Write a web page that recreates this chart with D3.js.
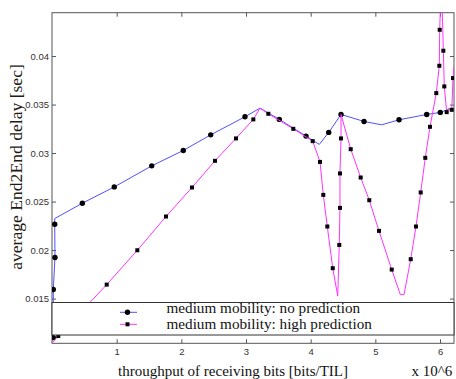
<!DOCTYPE html>
<html>
<head>
<meta charset="utf-8">
<script src="https://cdn.jsdelivr.net/npm/d3@7"></script>
<style>
  body { margin: 0; background: #fff; }
  svg { display: block; }
</style>
</head>
<body>
<svg id="chart" width="456" height="379"></svg>
<script>
// throughput [x 10^6 bits/TIL] and delay [sec]; mark = 1 where a marker is drawn
const noPredX = [0.02, 0.02, 0.046, 0.042, 0.042, 0.469, 0.963, 1.542, 2.030, 2.454, 2.984, 3.216, 3.515, 3.928, 4.133, 4.279, 4.469, 4.825, 5.098, 5.366, 5.794, 6.004, 6.150];
const noPredY = [0.01098, 0.01593, 0.01923, 0.02267, 0.02325, 0.02483, 0.02651, 0.02868, 0.03027, 0.03188, 0.03374, 0.03463, 0.03347, 0.03175, 0.03089, 0.03213, 0.03398, 0.03326, 0.03291, 0.03343, 0.03398, 0.03419, 0.03456];
const noPredMark = [1, 1, 1, 1, 0, 1, 1, 1, 1, 1, 1, 0, 1, 1, 0, 1, 1, 1, 0, 1, 1, 1, 0];

const highPredX = [0.0, 0.097, 0.846, 1.319, 1.763, 2.165, 2.520, 2.845, 3.113, 3.216, 3.345, 3.731, 4.031, 4.144, 4.195, 4.257, 4.341, 4.418, 4.442, 4.453, 4.453, 4.469, 4.469, 4.619, 4.773, 4.906, 5.056, 5.253, 5.386, 5.443, 5.547, 5.628, 5.701, 5.772, 5.845, 5.942, 5.989, 5.995, 6.010, 6.030, 6.051, 6.066, 6.103, 6.134, 6.181, 6.201, 6.230];
const highPredY = [0.0104, 0.01114, 0.01644, 0.01998, 0.02346, 0.02645, 0.0292, 0.03151, 0.03347, 0.03463, 0.03405, 0.0325, 0.03123, 0.02909, 0.02569, 0.02243, 0.01813, 0.01527, 0.02053, 0.02435, 0.0279, 0.03151, 0.03398, 0.0304, 0.02748, 0.02514, 0.02198, 0.01799, 0.01541, 0.01541, 0.01906, 0.02243, 0.02594, 0.02951, 0.03271, 0.03618, 0.039, 0.04271, 0.0458, 0.0458, 0.04055, 0.03687, 0.03422, 0.0346, 0.03446, 0.03773, 0.0396];
const highPredMark = [0, 1, 1, 1, 1, 1, 1, 1, 1, 0, 1, 1, 1, 1, 1, 1, 1, 0, 1, 1, 1, 1, 0, 1, 1, 1, 1, 1, 0, 0, 1, 1, 1, 1, 1, 1, 1, 1, 0, 0, 1, 1, 1, 0, 1, 1, 0];

const xTicks = [1, 2, 3, 4, 5, 6];
const yTicks = [0.015, 0.02, 0.025, 0.03, 0.035, 0.04];
const seriesNames = ["medium mobility: no prediction", "medium mobility: high prediction"];

const plotLeft = 52, plotRight = 454, plotTop = 12.7, plotBottom = 343.3;
const axisColor = "#555";
const blue = "#5050ff", magenta = "#ff33ff";

const svg = d3.select("#chart");

const xScale = d3.scaleLinear().domain([0, 6.216]).range([plotLeft, plotRight]);
const yScale = d3.scaleLinear().domain([0.01039, 0.04447]).range([plotBottom, plotTop]);

svg.append("defs").append("clipPath").attr("id", "plot")
   .append("rect")
   .attr("x", plotLeft).attr("y", plotTop)
   .attr("width", plotRight - plotLeft).attr("height", plotBottom - plotTop);

// axes, ticks pointing inward on all four sides
function styleAxis(g) {
  g.select(".domain").remove();
  g.selectAll("line").attr("stroke", axisColor);
  g.selectAll("text")
   .attr("fill", "#333")
   .style("font-family", "'Liberation Sans', Arial, sans-serif")
   .style("font-size", "9.5px");
}

svg.append("g")
   .attr("transform", `translate(0,${plotBottom})`)
   .call(d3.axisBottom(xScale).tickValues(xTicks).tickSize(-4).tickPadding(4.5).tickFormat(d3.format("d")))
   .call(styleAxis);

svg.append("g")
   .attr("transform", `translate(0,${plotTop})`)
   .call(d3.axisTop(xScale).tickValues(xTicks).tickSize(-4).tickFormat(""))
   .call(styleAxis);

svg.append("g")
   .attr("transform", `translate(${plotLeft},0)`)
   .call(d3.axisLeft(yScale).tickValues(yTicks).tickSize(-4).tickPadding(3).tickFormat(d => String(+d.toFixed(3))))
   .call(styleAxis);

svg.append("g")
   .attr("transform", `translate(${plotRight},0)`)
   .call(d3.axisRight(yScale).tickValues(yTicks).tickSize(-4).tickFormat(""))
   .call(styleAxis);

svg.append("rect")
   .attr("x", plotLeft).attr("y", plotTop)
   .attr("width", plotRight - plotLeft).attr("height", plotBottom - plotTop)
   .attr("fill", "none").attr("stroke", axisColor).attr("stroke-width", 1);

// data
const plot = svg.append("g").attr("clip-path", "url(#plot)");
const line = d3.line().x(d => xScale(d[0])).y(d => yScale(d[1]));

function drawSeries(xs, ys, marks, color, shape) {
  const pts = xs.map((x, i) => [x, ys[i], marks[i]]);
  plot.append("path")
      .datum(pts)
      .attr("d", line)
      .attr("fill", "none")
      .attr("stroke", color)
      .attr("stroke-width", 1);
  const m = pts.filter(d => d[2]);
  if (shape === "circle") {
    plot.selectAll(null).data(m).enter().append("circle")
        .attr("cx", d => xScale(d[0])).attr("cy", d => yScale(d[1]))
        .attr("r", 2.7).attr("fill", "#000");
  } else {
    plot.selectAll(null).data(m).enter().append("rect")
        .attr("x", d => xScale(d[0]) - 2).attr("y", d => yScale(d[1]) - 2)
        .attr("width", 4).attr("height", 4).attr("fill", "#000");
  }
}

drawSeries(noPredX, noPredY, noPredMark, blue, "circle");
drawSeries(highPredX, highPredY, highPredMark, magenta, "square");

// legend box sits over the plot
const legend = svg.append("g");
legend.append("rect")
      .attr("x", plotLeft).attr("y", 302.5)
      .attr("width", plotRight - plotLeft).attr("height", 32.5)
      .attr("fill", "#fff").attr("stroke", "#333").attr("stroke-width", 1);

[[blue, "circle", 312.3, 312.5], [magenta, "square", 324.3, 329.3]].forEach((s, i) => {
  legend.append("line")
        .attr("x1", 120).attr("x2", 137).attr("y1", s[2]).attr("y2", s[2])
        .attr("stroke", s[0]).attr("stroke-width", 1);
  if (s[1] === "circle") {
    legend.append("circle").attr("cx", 127.5).attr("cy", s[2]).attr("r", 2.7).attr("fill", "#000");
  } else {
    legend.append("rect").attr("x", 125.5).attr("y", s[2] - 2).attr("width", 4).attr("height", 4).attr("fill", "#000");
  }
  legend.append("text")
        .attr("x", 166.5).attr("y", s[3])
        .style("font-family", "'Liberation Serif', 'Times New Roman', serif")
        .style("font-size", "15.2px")
        .attr("fill", "#111")
        .text(seriesNames[i]);
});

// axis labels
svg.append("text")
   .attr("x", 233).attr("y", 375.5)
   .attr("text-anchor", "middle")
   .style("font-family", "'Liberation Serif', 'Times New Roman', serif")
   .style("font-size", "15px")
   .attr("fill", "#111")
   .text("throughput of receiving bits [bits/TIL]");

svg.append("text")
   .attr("x", 411.5).attr("y", 375.5)
   .style("font-family", "'Liberation Serif', 'Times New Roman', serif")
   .style("font-size", "15px")
   .attr("fill", "#111")
   .text("x 10^6");

svg.append("text")
   .attr("transform", "translate(22,167) rotate(-90)")
   .attr("text-anchor", "middle")
   .style("font-family", "'Liberation Serif', 'Times New Roman', serif")
   .style("font-size", "17.6px")
   .attr("fill", "#221a10")
   .text("average End2End delay [sec]");
</script>
</body>
</html>
